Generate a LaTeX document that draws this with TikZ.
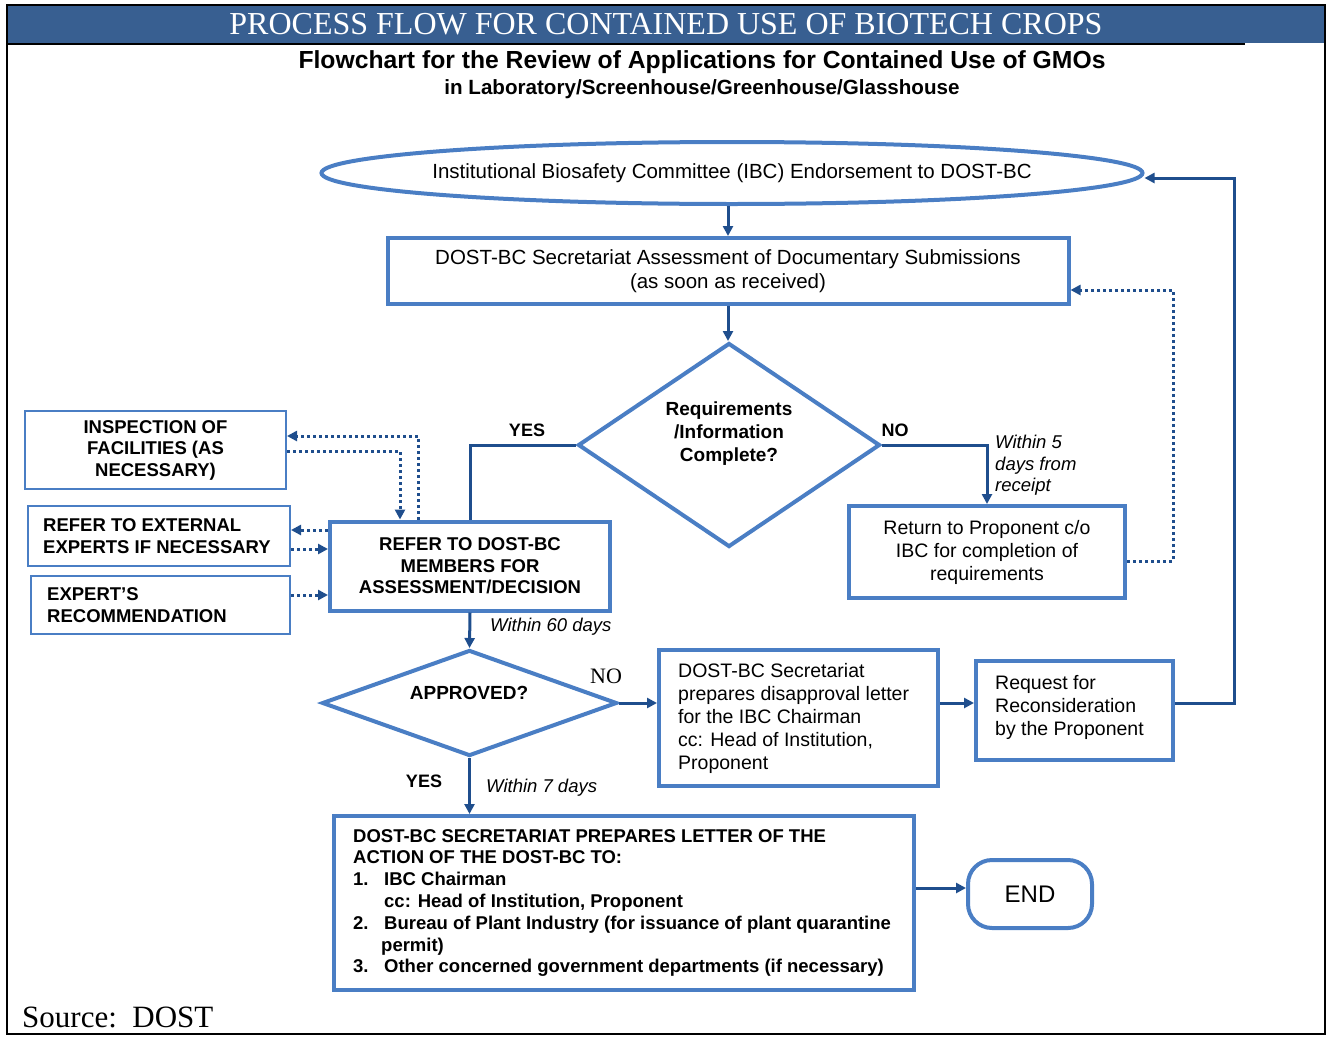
\documentclass[tikz,border=0pt]{standalone}
\usepackage{fontspec}
\setmainfont{Liberation Sans}
\newfontfamily\timesfont{Liberation Serif}
\usetikzlibrary{shapes.geometric,arrows.meta,positioning}

\definecolor{headblue}{RGB}{56,95,145}
\definecolor{boxblue}{RGB}{74,126,196}
\definecolor{linkblue}{RGB}{31,78,141}

\tikzset{
  box/.style={draw=boxblue, line width=4pt, fill=white, inner sep=0pt, align=center, font=\fontsize{19.5}{23}\selectfont},
  capbox/.style={box, font=\bfseries\fontsize{18.5}{21.5}\selectfont},
  sidebox/.style={draw=boxblue, line width=2pt, inner sep=0pt, align=center, font=\bfseries\fontsize{18.5}{21.5}\selectfont},
  boxtext/.style={anchor=west, inner sep=0pt, align=left, font=\fontsize{19.5}{23}\selectfont},
  sidetext/.style={boxtext, font=\bfseries\fontsize{18.5}{21.5}\selectfont},
  decision/.style={diamond, draw=boxblue, line width=4pt, inner sep=0pt},
  link/.style={draw=linkblue, line width=3pt, -{Triangle[length=10pt,width=10pt]}},
  plainlink/.style={draw=linkblue, line width=3pt},
  dotlink/.style={link, dash pattern=on 3pt off 3pt},
  answer/.style={font=\bfseries\fontsize{18}{20}\selectfont},
  timing/.style={font=\itshape\fontsize{18.5}{21.5}\selectfont, align=left},
}

\begin{document}
\begin{tikzpicture}[x=1pt, y=-1pt]
\useasboundingbox (0,0) rectangle (1327,1036);

% frame and header
\fill[headblue] (7,5) rectangle (1325,43);
\draw[line width=2pt] (7,5) rectangle (1325,1034);
\draw[line width=1.5pt] (7,44) -- (1245,44);
\node[text=white, font=\timesfont\fontsize{32}{34}\selectfont] (header) at (666,24) {PROCESS FLOW FOR CONTAINED USE OF BIOTECH CROPS};
\node[font=\bfseries\fontsize{24.7}{27}\selectfont] (title) at (702,62) {Flowchart for the Review of Applications for Contained Use of GMOs};
\node[font=\bfseries\fontsize{20.6}{23}\selectfont] (subtitle) at (702,89) {in Laboratory/Screenhouse/Greenhouse/Glasshouse};

% main column
\node[ellipse, draw=boxblue, line width=4pt, minimum width=821pt, minimum height=62pt] (ibc) at (732,173) {};
\node[font=\fontsize{20.5}{23}\selectfont] (ibc-text) at (ibc.center) {Institutional Biosafety Committee (IBC) Endorsement to DOST-BC};
\node[box, minimum width=681pt, minimum height=66pt, font=\fontsize{20.5}{24}\selectfont] (assess) at (728,271) {DOST-BC Secretariat Assessment of Documentary Submissions\\(as soon as received)};
\node[decision, minimum width=302pt, minimum height=204pt] (complete) at (729,445) {};
\node[font=\bfseries\fontsize{19}{23}\selectfont, align=center] (complete-text) at (729,434) {Requirements\\/Information\\Complete?};
\node[box, minimum width=276pt, minimum height=92pt] (return) at (987,552) {Return to Proponent c/o\\IBC for completion of\\requirements};
\node[capbox, minimum width=280pt, minimum height=89pt] (members) at (470,566) {REFER TO DOST-BC\\MEMBERS FOR\\ASSESSMENT/DECISION};

% side boxes
\node[sidebox, minimum width=261pt, minimum height=78pt] (inspect) at (155.5,450) {INSPECTION OF\\FACILITIES (AS\\NECESSARY)};
\node[sidebox, minimum width=262pt, minimum height=60pt] (external) at (159,536) {};
\node[sidetext] (external-text) at ([xshift=16pt]external.west) {REFER TO EXTERNAL\\EXPERTS IF NECESSARY};
\node[sidebox, minimum width=259pt, minimum height=58pt] (expert) at (160.5,605) {};
\node[sidetext] (expert-text) at ([xshift=17pt]expert.west) {EXPERT'S\\RECOMMENDATION};

% decision and results
\node[decision, minimum width=295pt, minimum height=106pt] (approved) at (469.5,703) {};
\node[font=\bfseries\fontsize{19}{21}\selectfont] (approved-text) at (469,693) {APPROVED?};
\node[box, minimum width=279pt, minimum height=136pt] (disapprove) at (798.5,718) {};
\node[boxtext] (disapprove-text) at ([xshift=21pt]disapprove.west) {DOST-BC Secretariat\\prepares disapproval letter\\for the IBC Chairman\\cc: Head of Institution,\\Proponent};
\node[box, minimum width=197pt, minimum height=99pt] (reconsider) at (1074.5,710.5) {};
\node[boxtext] (reconsider-text) at ([xshift=21pt, yshift=3pt]reconsider.west) {Request for\\Reconsideration\\by the Proponent};
\node[box, minimum width=580pt, minimum height=174pt] (letter) at (624,903) {};
\node[boxtext, font=\bfseries\fontsize{18.5}{21.8}\selectfont] (letter-text) at ([xshift=21pt]letter.west) {DOST-BC SECRETARIAT PREPARES LETTER OF THE\\ACTION OF THE DOST-BC TO:\\\makebox[31pt][l]{1.}IBC Chairman\\\hspace*{31pt}cc: Head of Institution, Proponent\\\makebox[31pt][l]{2.}Bureau of Plant Industry (for issuance of plant quarantine\\\hspace*{28pt}permit)\\\makebox[31pt][l]{3.}Other concerned government departments (if necessary)};
\node[draw=boxblue, line width=4pt, rounded corners=24pt, minimum width=124pt, minimum height=68pt, font=\fontsize{24}{26}\selectfont] (endnode) at (1030,894) {END};

% labels
\node[answer] (yes1) at (527,430) {YES};
\node[answer] (no1) at (895,430) {NO};
\node[timing, anchor=north west, inner sep=0pt] (within5) at (995,435) {Within 5\\days from\\receipt};
\node[timing, anchor=west, inner sep=0pt] (within60) at (490,627) {Within 60 days};
\node[font=\timesfont\fontsize{22}{24}\selectfont] (no2) at (606,676) {NO};
\node[answer] (yes2) at (424,781) {YES};
\node[timing, anchor=west, inner sep=0pt] (within7) at (486,788) {Within 7 days};
\node[font=\timesfont\fontsize{31}{34}\selectfont, anchor=west, inner sep=0pt] (source) at (22,1017) {Source:\ \ DOST};

% arrows
\draw[link] (ibc.south -| assess.north) -- (assess.north);
\draw[link] (assess.south) -- (assess.south |- complete.north);
\draw[plainlink] (complete.west) -| (members.north);
\draw[link] (complete.east) -| (return.north);
\draw[dotlink] ([yshift=-9pt]return.east) -- ++(46,0) |- ([yshift=-19pt]assess.east);
\draw[dotlink] ([xshift=-52pt]members.north) |- ([yshift=14pt]inspect.east);
\draw[dotlink] ([yshift=-1pt]inspect.east) -| ([xshift=-70pt]members.north);
\draw[dotlink] ([yshift=36pt]members.west) -- ([yshift=36pt]members.west -| external.east);
\draw[dotlink] ([yshift=-13pt]external.east) -- ([yshift=-13pt]external.east -| members.west);
\draw[dotlink] ([yshift=10pt]expert.east) -- ([yshift=10pt]expert.east -| members.west);
\draw[link] (members.south) -- (approved.north);
\draw[link] (approved.east) -- (approved.east -| disapprove.west);
\draw[link] (approved.east -| disapprove.east) -- (approved.east -| reconsider.west);
\draw[link] ([yshift=7pt]reconsider.east) -- ++(59,0) |- ([yshift=-5pt]ibc.east);
\draw[link] (approved.south) -- (approved.south |- letter.north);
\draw[link] ([yshift=6pt]endnode.west -| letter.east) -- ([yshift=6pt]endnode.west);

\end{tikzpicture}
\end{document}
